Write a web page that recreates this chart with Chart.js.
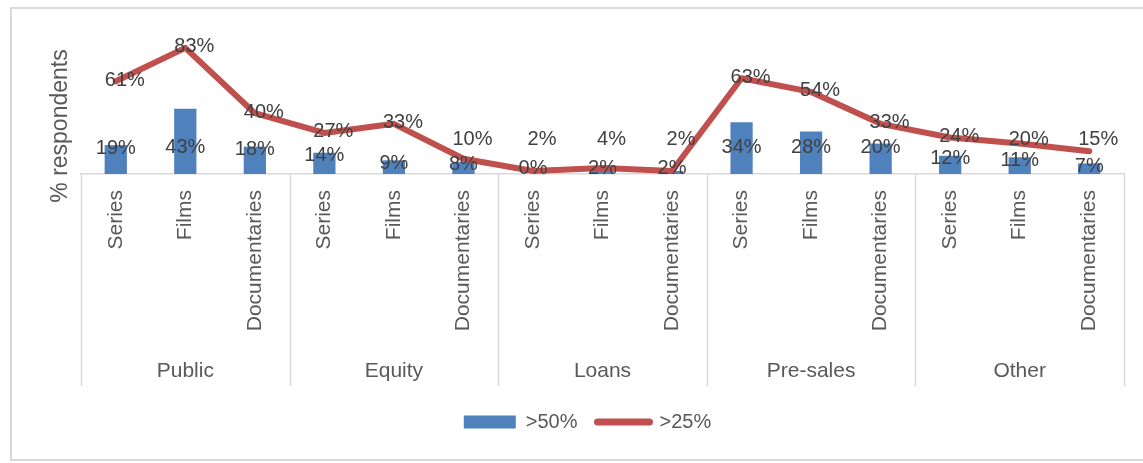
<!DOCTYPE html>
<html>
<head>
<meta charset="utf-8">
<script src="https://cdn.jsdelivr.net/npm/chart.js@4.4.1/dist/chart.umd.min.js"></script>
<style>
  html, body { margin: 0; padding: 0; background: #fff; }
  #wrap { width: 1143px; height: 463px; position: relative; }
</style>
</head>
<body>
<div id="wrap"><canvas id="chart"></canvas></div>
<script>
// categories and values
const groups = ['Public', 'Equity', 'Loans', 'Pre-sales', 'Other'];
const kinds = ['Series', 'Films', 'Documentaries'];
const over50 = [19, 43, 18, 14, 9, 8, 0, 2, 2, 34, 28, 20, 12, 11, 7];
const over25 = [61, 83, 40, 27, 33, 10, 2, 4, 2, 63, 54, 33, 24, 20, 15];

const labels = groups.flatMap(() => kinds);

const BLUE = '#4F81BD', RED = '#C0504D', GRID = '#D9D9D9';
const FONT = '"Liberation Sans", Arial, sans-serif';

// frame, group separators, group names, axis title
const decorPlugin = {
    id: 'decor',
    afterLayout(chart) {
        // legend sits a bit left of the plot centre in the original
        if (chart.legend) { chart.legend.left -= 15; chart.legend.right -= 15; }
    },
    beforeDraw(chart) {
        const { ctx } = chart;
        ctx.save();
        ctx.strokeStyle = GRID; ctx.lineWidth = 2;
        ctx.strokeRect(11, 8, 1160, 452);
        ctx.restore();
    },
    afterDraw(chart) {
        const { ctx, chartArea } = chart;
        const x = chart.scales.x;
        const step = (chartArea.right - chartArea.left) / labels.length;
        ctx.save();
        ctx.strokeStyle = GRID; ctx.lineWidth = 1.5;
        for (let g = 0; g <= groups.length; g++) {
            const px = Math.round(chartArea.left + g * kinds.length * step) + 0.5;
            ctx.beginPath(); ctx.moveTo(px, chartArea.bottom); ctx.lineTo(px, 386); ctx.stroke();
        }
        ctx.fillStyle = '#595959';
        ctx.font = `21px ${FONT}`;
        ctx.textAlign = 'center'; ctx.textBaseline = 'middle';
        groups.forEach((g, i) => {
            const mid = (x.getPixelForValue(i * 3) + x.getPixelForValue(i * 3 + 2)) / 2;
            ctx.fillText(g, mid, 371);
        });
        // y axis title
        ctx.translate(61, 126);
        ctx.rotate(-Math.PI / 2);
        ctx.font = `23px ${FONT}`;
        ctx.fillText('% respondents', 0, 0);
        ctx.restore();
    }
};

// value labels
const labelPlugin = {
    id: 'valueLabels',
    afterDatasetsDraw(chart) {
        const { ctx } = chart;
        const y = chart.scales.y;
        ctx.save();
        ctx.fillStyle = '#404040';
        ctx.font = `20px ${FONT}`;
        ctx.textAlign = 'center'; ctx.textBaseline = 'middle';
        chart.getDatasetMeta(0).data.forEach((bar, i) => {
            const top = y.getPixelForValue(over50[i]);
            const ly = Math.min(Math.max(top + 3, 147), 168);
            ctx.fillText(over50[i] + '%', bar.x, ly);
        });
        chart.getDatasetMeta(1).data.forEach((pt, i) => {
            const ly = Math.min(pt.y - 1, 139);
            ctx.fillText(over25[i] + '%', pt.x + 9, ly);
        });
        ctx.restore();
    }
};

new Chart(document.getElementById('chart'), {
    data: {
        labels: labels,
        datasets: [
            {
                type: 'bar', label: '>50%', data: over50, order: 2,
                backgroundColor: BLUE, borderWidth: 0,
                barPercentage: 0.4, categoryPercentage: 0.8
            },
            {
                type: 'line', label: '>25%', data: over25, order: 1,
                borderColor: RED, backgroundColor: RED, borderWidth: 6,
                borderCapStyle: 'round', borderJoinStyle: 'round',
                pointRadius: 0, tension: 0
            }
        ]
    },
    options: {
        responsive: true, maintainAspectRatio: false, animation: false,
        layout: { padding: { top: 22, left: 81, right: 19, bottom: 21 } },
        plugins: {
            tooltip: { enabled: false },
            legend: {
                position: 'bottom',
                sort: (a, b) => a.datasetIndex - b.datasetIndex,
                labels: {
                    color: '#595959', font: { family: FONT, size: 20 }, padding: 20,
                    usePointStyle: true, pointStyleWidth: 52, boxHeight: 13,
                    generateLabels: (chart) => chart.data.datasets.map((d, i) => ({
                        text: d.label, datasetIndex: i,
                        fillStyle: d.type === 'bar' ? BLUE : RED,
                        strokeStyle: d.type === 'bar' ? BLUE : RED,
                        lineWidth: d.type === 'bar' ? 0 : 7,
                        lineCap: 'round',
                        pointStyle: d.type === 'bar' ? 'rect' : 'line',
                        fontColor: '#595959'
                    }))
                }
            }
        },
        scales: {
            x: {
                grid: { display: false },
                border: { display: true, color: GRID, width: 1.5 },
                ticks: {
                    color: '#595959', font: { family: FONT, size: 21 },
                    minRotation: 90, maxRotation: 90, padding: 8, autoSkip: false
                },
                afterFit: (s) => { s.height = 218; }
            },
            y: {
                display: false, min: 0, max: 100
            }
        }
    },
    plugins: [decorPlugin, labelPlugin]
});
</script>
</body>
</html>
